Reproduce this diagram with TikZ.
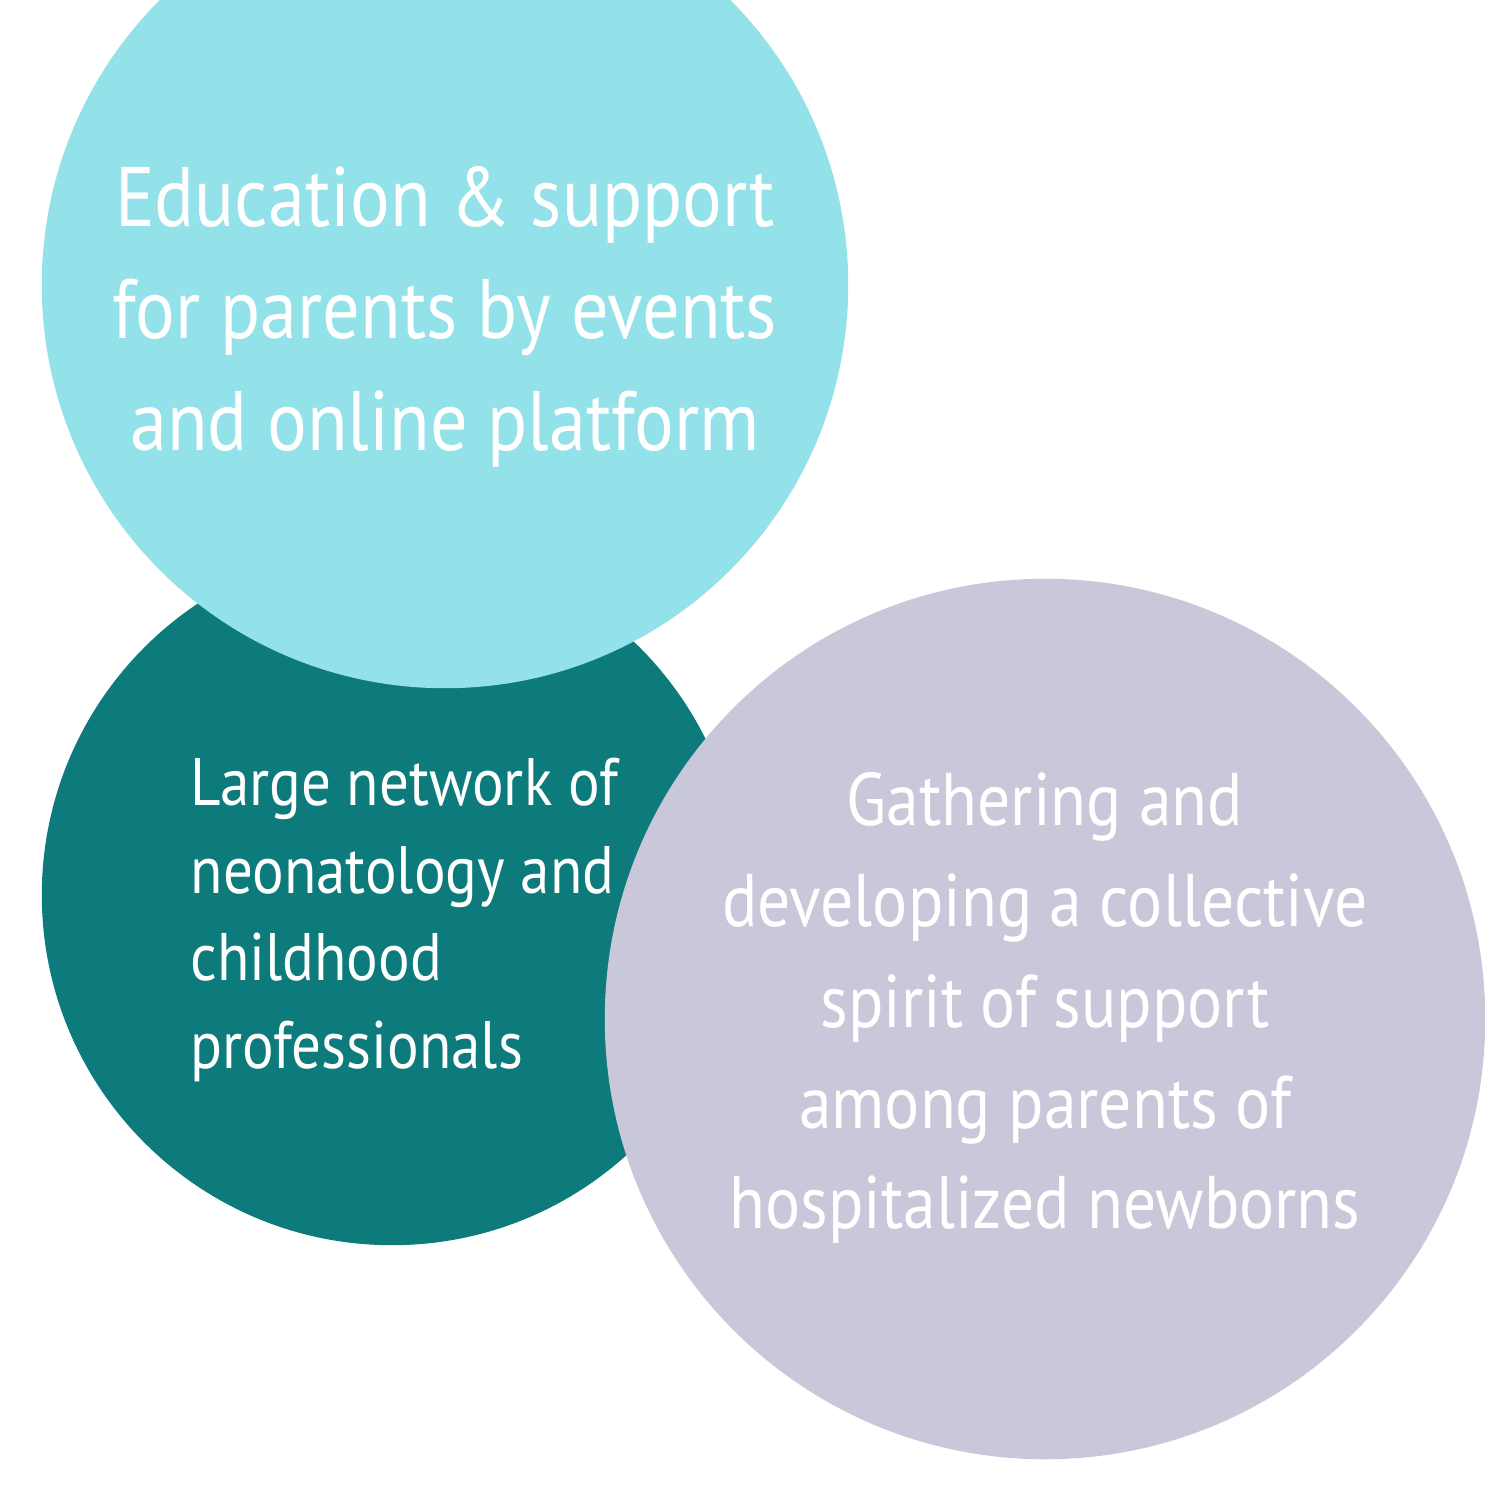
\documentclass[tikz,border=0pt]{standalone}
\usepackage{fontspec}
\setmainfont[FakeStretch=0.88]{PT Sans}
\usetikzlibrary{positioning}
\definecolor{skyc}{HTML}{93E1E9}
\definecolor{tealc}{HTML}{0D7A7B}
\definecolor{lilac}{HTML}{C8C8DA}
\begin{document}
\begin{tikzpicture}[
  x=0.01cm, y=-0.01cm,
  disc/.style={circle, inner sep=0pt, outer sep=0pt},
  txt/.style={text=white, inner sep=0pt}]

\useasboundingbox (0,0) rectangle (1485,1485);

% ===== circles =====
\node[disc, fill=tealc, minimum size=7.00cm] (net) at (392,895) {};
\node[disc, fill=skyc,  minimum size=8.06cm] (edu) at (445,285) {};
\node[disc, fill=lilac, minimum size=8.80cm] (spr) at (1045,1019) {};

% ===== texts =====
\node[txt, align=center, font=\fontsize{24}{31.9}\selectfont] (eduT) at (445,317)
  {Education \& support\\for parents by events\\and online platform};
\node[txt, align=left, font=\fontsize{19.1}{25}\selectfont, anchor=west] (netT) at (190,920)
  {Large network of\\neonatology and\\childhood\\professionals};
\node[txt, align=center, font=\fontsize{21.2}{28.7}\selectfont] (sprT) at (1045,1008)
  {Gathering and\\developing a collective\\spirit of support\\among parents of\\hospitalized newborns};

\end{tikzpicture}
\end{document}
